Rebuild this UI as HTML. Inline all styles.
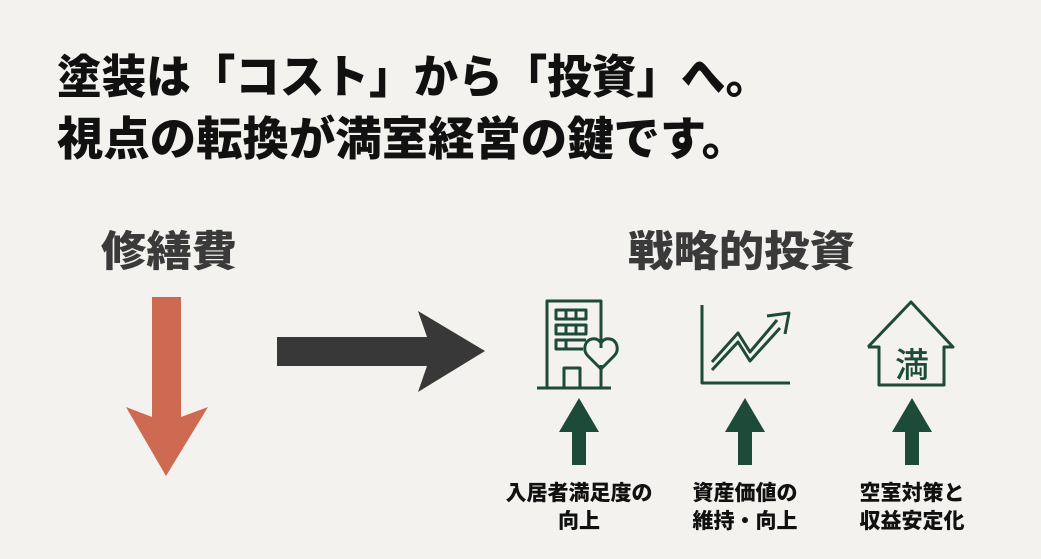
<!DOCTYPE html>
<html><head><meta charset="utf-8"><style>
html,body{margin:0;padding:0;background:#f3f2ee;}
svg{display:block}
text{font-family:"Liberation Sans","Noto Sans CJK JP",sans-serif;font-weight:900}
</style></head><body>
<svg width="1041" height="559" viewBox="0 0 1041 559" xmlns="http://www.w3.org/2000/svg">
<rect width="1041" height="559" fill="#f3f2ee"/>
<text x="57" y="93" font-size="46" fill="#111" textLength="713" lengthAdjust="spacingAndGlyphs">塗装は「コスト」から「投資」へ。</text>
<text x="57" y="155" font-size="46" fill="#111" textLength="691" lengthAdjust="spacingAndGlyphs">視点の転換が満室経営の鍵です。</text>
<text x="101" y="266" font-size="42" fill="#3a3a3a" textLength="136" lengthAdjust="spacingAndGlyphs">修繕費</text>
<text x="628" y="266" font-size="42" fill="#3a3a3a" textLength="227" lengthAdjust="spacingAndGlyphs">戦略的投資</text>
<polygon points="152,297 181,297 181,417 208,407 166,476 126,407 152,417" fill="#cf6a52"/>
<polygon points="277,337 427,337 418,311 485,351 418,392 427,366 277,366" fill="#383838"/>
<g fill="#1e4a3a">
<polygon points="572,465 586,465 586,432 599,432 579,398 559,432 572,432"/>
<polygon points="738,465 752,465 752,432 765,432 745,398 725,432 738,432"/>
<polygon points="905,465 919,465 919,432 932,432 912,398 892,432 905,432"/>
</g>
<g fill="none" stroke="#1e4a3a" stroke-width="3" stroke-linejoin="round">
<polyline points="601,348 601,301 547,301 547,388"/>
<line x1="537" y1="388" x2="611" y2="388"/>
<line x1="601" y1="365" x2="601" y2="388"/>
<rect x="556" y="310" width="30" height="9"/>
<line x1="566" y1="310" x2="566" y2="319"/><line x1="576" y1="310" x2="576" y2="319"/>
<rect x="556" y="325" width="30" height="9"/>
<line x1="566" y1="325" x2="566" y2="334"/><line x1="576" y1="325" x2="576" y2="334"/>
<polyline points="586,340 556,340 556,349 583,349"/>
<line x1="566" y1="340" x2="566" y2="349"/>
<polyline points="564,388 564,368 580,368 580,388"/>
<path d="M601,369 L588,356 C582,350 585,340 592,339 C596,338 599,340 601,343 C603,340 606,338 610,339 C617,340 620,350 614,356 Z"/>
<polyline points="702,305 702,383 790,383"/>
<polyline points="712,362 738,333 750,352 777,320"/>
<polyline points="712,370 738,342 750,361 780,328"/>
<polyline points="767,316 789,313 785,334"/>
<polyline points="868,347 911,302 953,347 944,347 944,385 879,385 879,347 868,347"/>
</g>
<text x="912" y="377" font-size="34" fill="#1e4a3a" text-anchor="middle" style="font-weight:500">満</text>
<g font-size="21" fill="#111" text-anchor="middle" style="font-weight:bold">
<text x="579" y="500">入居者満足度の</text>
<text x="579" y="528">向上</text>
<text x="745" y="500">資産価値の</text>
<text x="745" y="528">維持・向上</text>
<text x="912" y="500">空室対策と</text>
<text x="912" y="528">収益安定化</text>
</g>
</svg>
</body></html>
